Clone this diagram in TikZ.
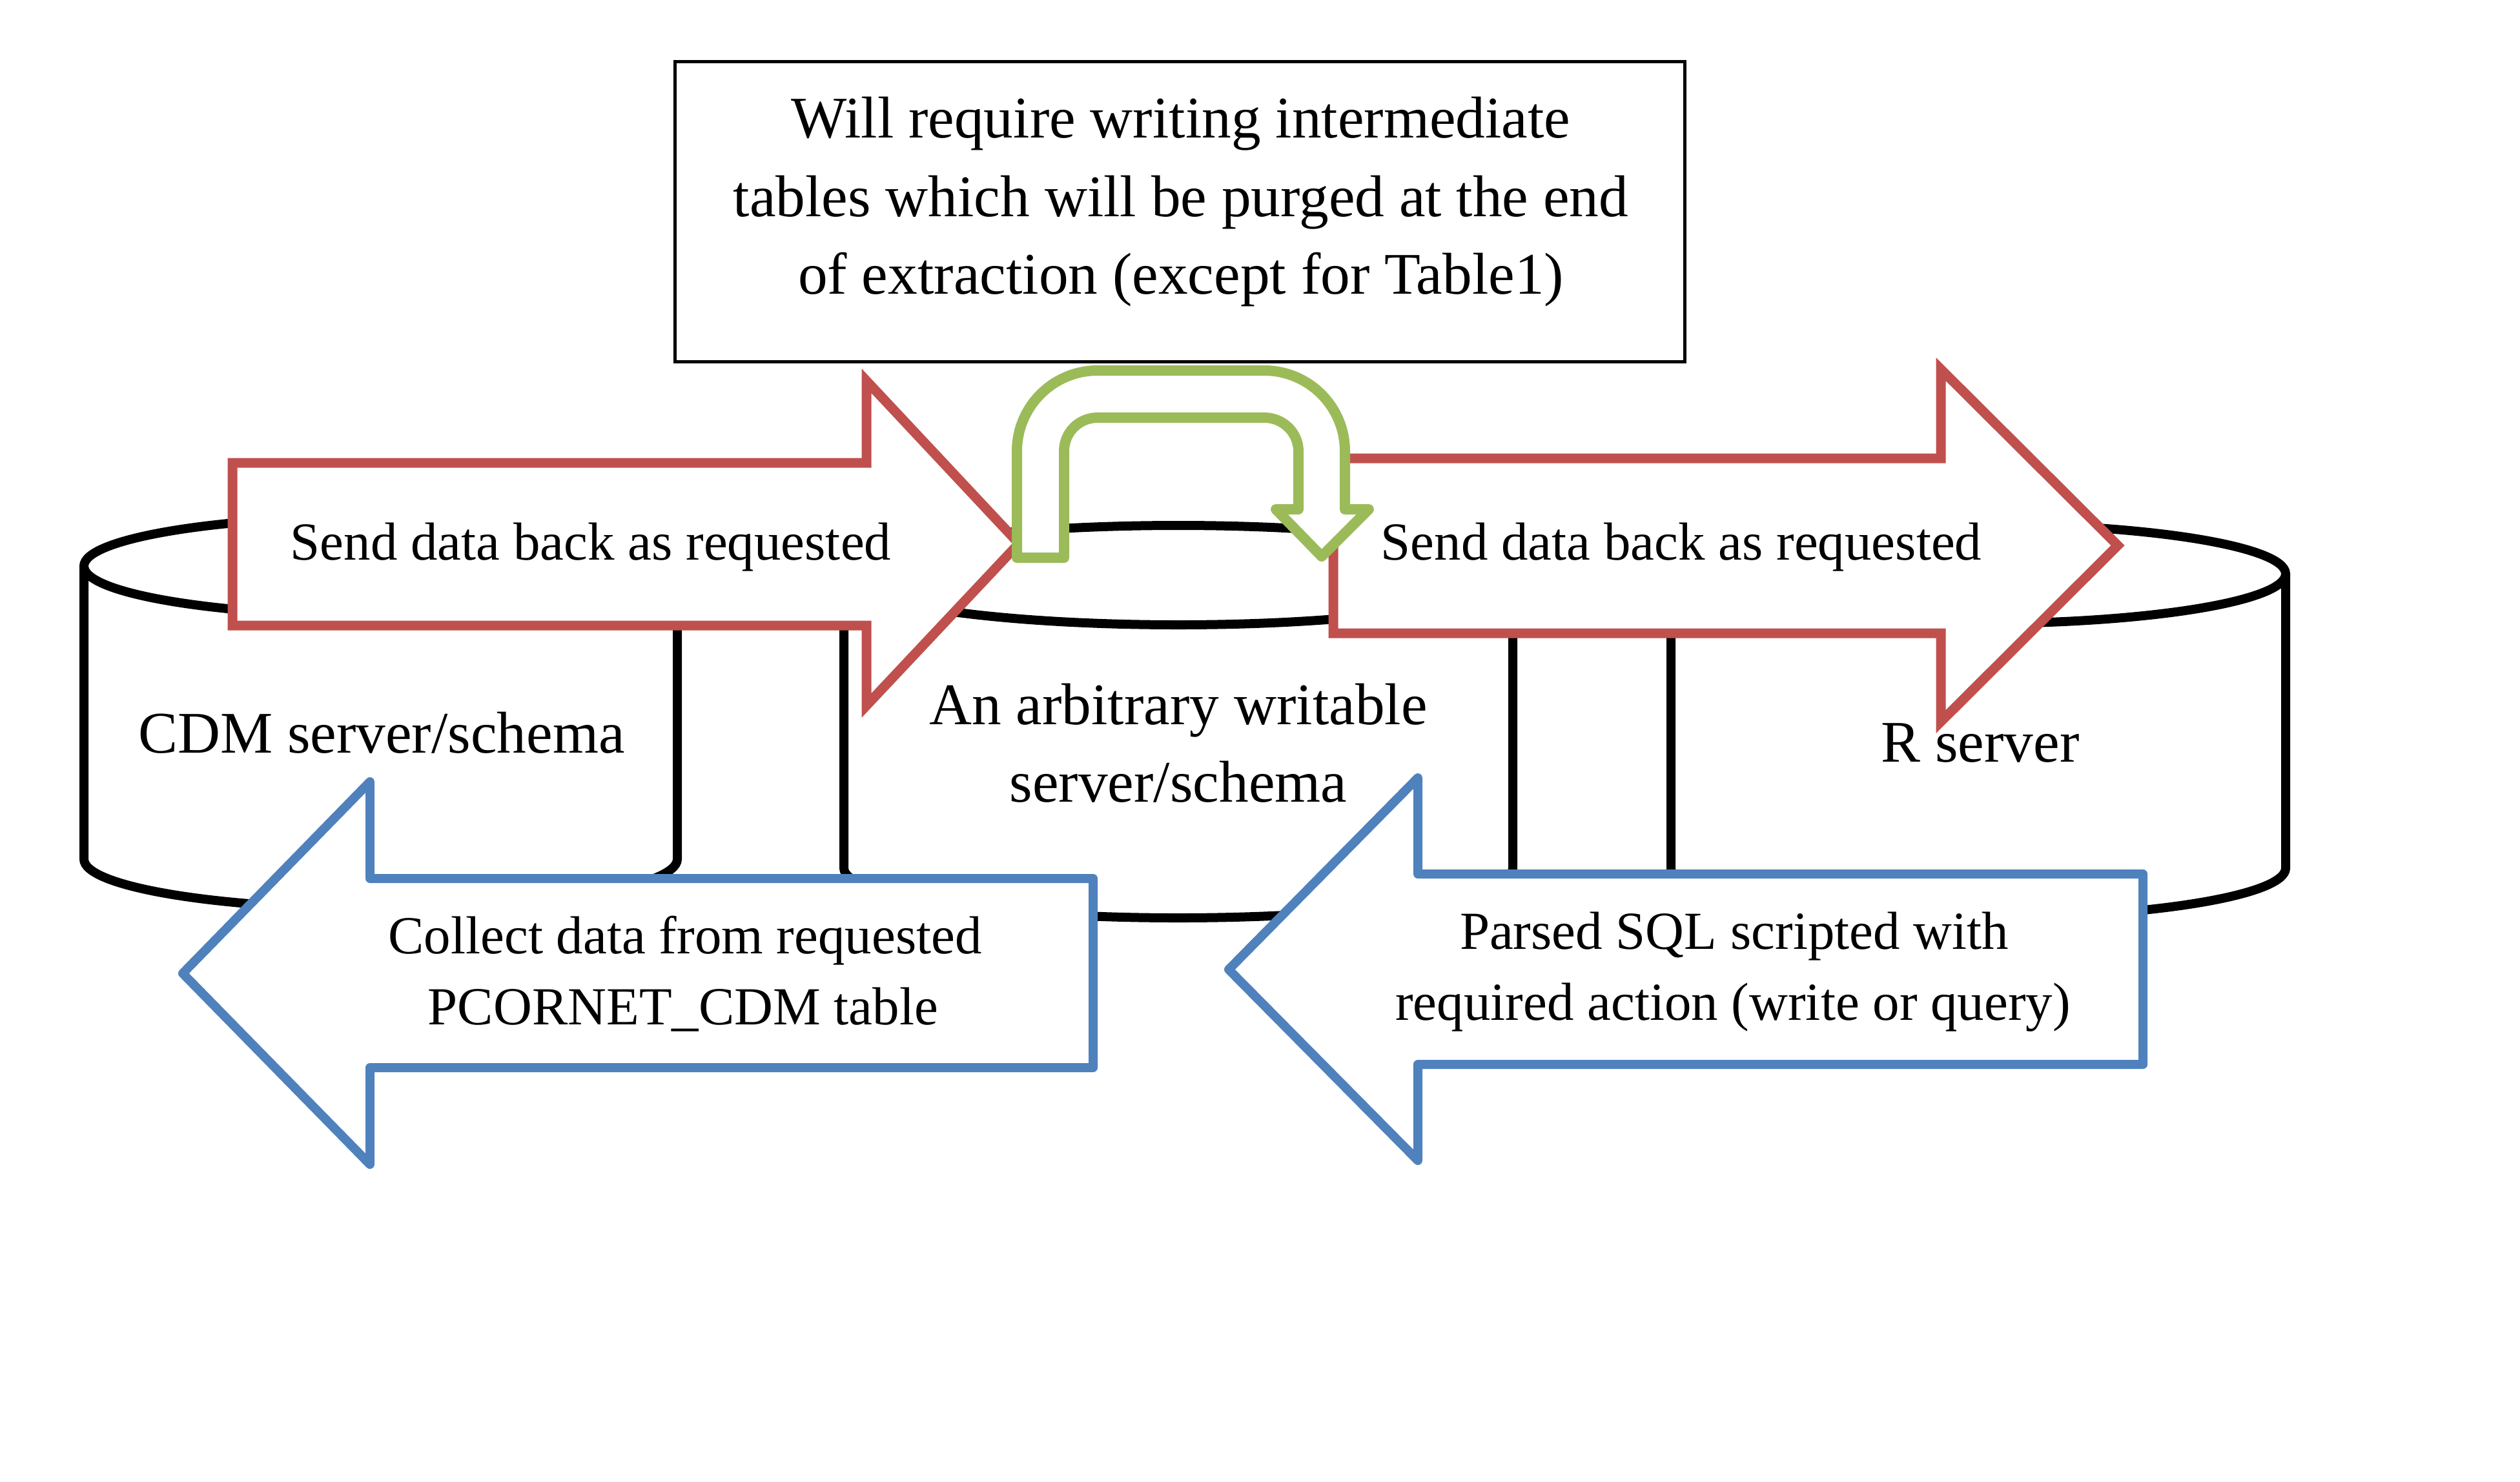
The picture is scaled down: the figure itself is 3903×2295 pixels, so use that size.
\documentclass[tikz,border=0pt]{standalone}
\usepackage{fontspec}
\setmainfont{Liberation Serif}
\definecolor{redc}{HTML}{C0504D}
\definecolor{bluec}{HTML}{4F81BD}
\definecolor{greenc}{HTML}{9BBB59}
\tikzset{
  cylline/.style={draw=black, line width=1.4mm},
  redarrow/.style={draw=redc, line width=1.5mm, fill=white, line join=miter},
  bluearrow/.style={draw=bluec, line width=1.4mm, fill=white, line join=round},
  greenarrow/.style={draw=greenc, line width=1.6mm, fill=white, line join=round},
  bigtxt/.style={font=\fontsize{26pt}{34pt}\selectfont, anchor=base, inner sep=0pt},
  arrtxt/.style={font=\fontsize{23.6pt}{31pt}\selectfont, anchor=base, inner sep=0pt},
  notebox/.style={draw=black, line width=0.5mm, fill=white, inner sep=0pt,
    minimum width=156.4mm, minimum height=46.5mm}
}
\begin{document}
\begin{tikzpicture}[x=0.1mm,y=-0.1mm]
\useasboundingbox[fill=white] (0,0) rectangle (3903,2295);

% ---- left cylinder (CDM server/schema)
\fill[white] (130,877) -- (130,1331) .. controls (130,1373.5) and (335.7,1408) .. (589.5,1408)
  .. controls (843.3,1408) and (1049,1373.5) .. (1049,1331) -- (1049,877) -- cycle;
\draw[cylline] (130,877) -- (130,1331) .. controls (130,1373.5) and (335.7,1408) .. (589.5,1408)
  .. controls (843.3,1408) and (1049,1373.5) .. (1049,1331) -- (1049,877);
\draw[cylline, fill=white] (589.5,877) ellipse [x radius=459.5, y radius=77];

% ---- middle cylinder
\fill[white] (1307,891) -- (1307,1345) .. controls (1307,1387.5) and (1538.9,1422) .. (1825,1422)
  .. controls (2111.1,1422) and (2343,1387.5) .. (2343,1345) -- (2343,891) -- cycle;
\draw[cylline] (1307,891) -- (1307,1345) .. controls (1307,1387.5) and (1538.9,1422) .. (1825,1422)
  .. controls (2111.1,1422) and (2343,1387.5) .. (2343,1345) -- (2343,891);
\draw[cylline, fill=white] (1825,891) ellipse [x radius=518, y radius=77];

% ---- right cylinder (R server)
\fill[white] (2588,889) -- (2588,1345) .. controls (2588,1387.5) and (2801.1,1422) .. (3064,1422)
  .. controls (3326.9,1422) and (3540,1387.5) .. (3540,1345) -- (3540,889) -- cycle;
\draw[cylline] (2588,889) -- (2588,1345) .. controls (2588,1387.5) and (2801.1,1422) .. (3064,1422)
  .. controls (3326.9,1422) and (3540,1387.5) .. (3540,1345) -- (3540,889);
\draw[cylline, fill=white] (3064,889) ellipse [x radius=476, y radius=77];

% ---- cylinder labels
\node[bigtxt] (cdm) at (591,1166) {CDM server/schema};
\node[bigtxt] (mid1) at (1825,1122) {An arbitrary writable};
\node[bigtxt] (mid2) at (1825,1242) {server/schema};
\node[bigtxt] (rsrv) at (3067,1180) {R server};

% ---- red arrows
\draw[redarrow] (360,717) -- (1342,717) -- (1342,590) -- (1578,842) -- (1342,1093)
  -- (1342,969) -- (360,969) -- cycle;
\node[arrtxt] (send1) at (915,867) {Send data back as requested};

\draw[redarrow] (2065,710) -- (3006,710) -- (3006,572) -- (3280,845) -- (3006,1118)
  -- (3006,981) -- (2065,981) -- cycle;
\node[arrtxt] (send2) at (2604,867) {Send data back as requested};

% ---- green U-turn arrow
\draw[greenarrow] (1575,864) -- (1575,699)
  .. controls (1575,630) and (1631,574) .. (1700,574) -- (1958,574)
  .. controls (2027,574) and (2083,630) .. (2083,699) -- (2083,789) -- (2120,789)
  -- (2047,862) -- (1976,789) -- (2011,789) -- (2011,699)
  .. controls (2011,670) and (1987,647) .. (1958,647) -- (1700,647)
  .. controls (1671,647) and (1648,670) .. (1648,699) -- (1648,864) -- cycle;

% ---- blue arrows
\draw[bluearrow] (1693,1361) -- (573,1361) -- (573,1211) -- (283,1508) -- (573,1804)
  -- (573,1654) -- (1693,1654) -- cycle;
\node[arrtxt] (coll1) at (1061,1477) {Collect data from requested};
\node[arrtxt] (coll2) at (1058,1587) {PCORNET\_CDM table};

\draw[bluearrow] (3319,1354) -- (2196,1354) -- (2196,1205) -- (1903,1502) -- (2196,1798)
  -- (2196,1649) -- (3319,1649) -- cycle;
\node[arrtxt] (pars1) at (2686,1470) {Parsed SQL scripted with};
\node[arrtxt] (pars2) at (2684,1580) {required action (write or query)};

% ---- note box
\node[notebox] (box) at (1827,327.5) {};
\node[bigtxt] (note1) at (1829,213) {Will require writing intermediate};
\node[bigtxt] (note2) at (1829,335) {tables which will be purged at the end};
\node[bigtxt] (note3) at (1829,455) {of extraction (except for Table1)};
\end{tikzpicture}
\end{document}
